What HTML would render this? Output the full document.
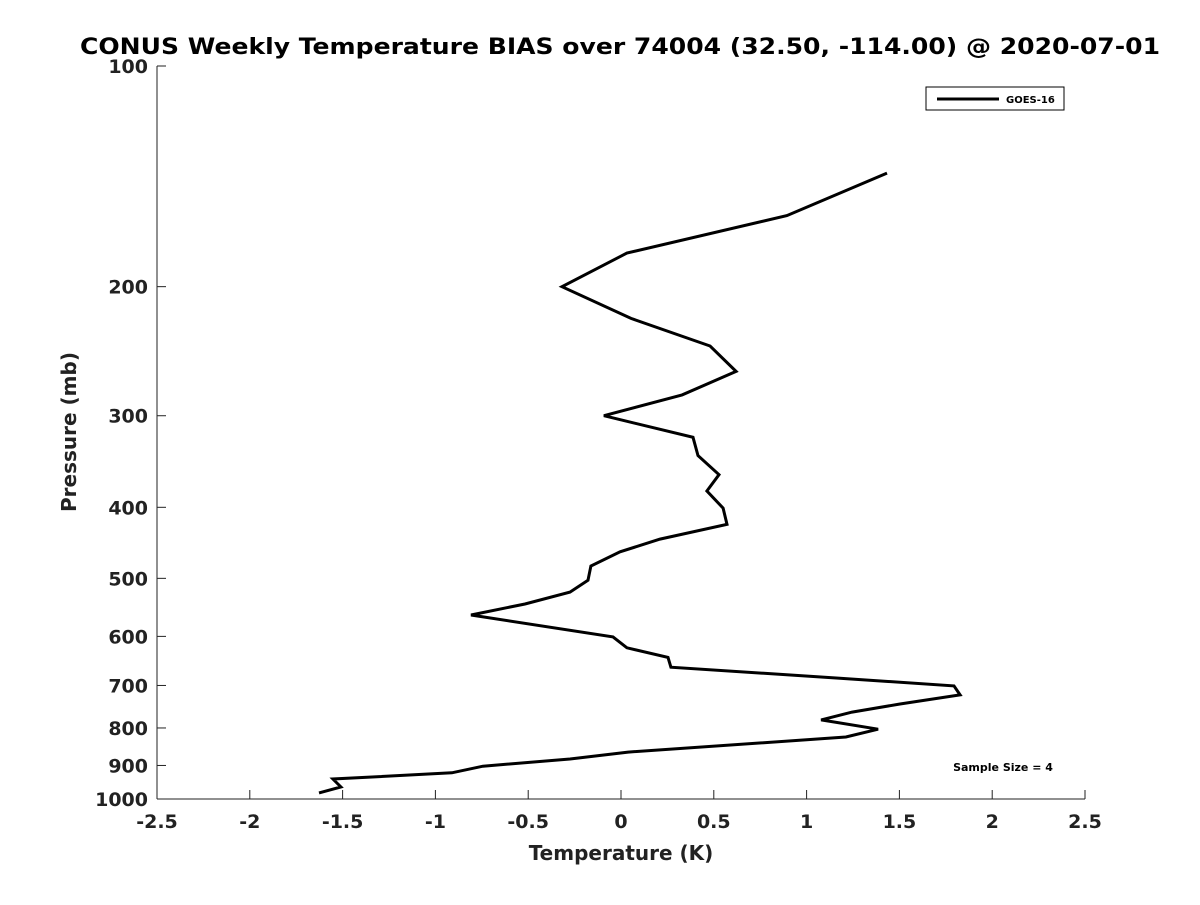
<!DOCTYPE html>
<html><head><meta charset="utf-8"><style>
body{margin:0;background:#fff;}
svg text{font-family:"DejaVu Sans","Liberation Sans",sans-serif;font-weight:bold;fill:#222;}
</style></head><body>
<svg id="chart" width="1200" height="900" xmlns="http://www.w3.org/2000/svg">
<rect x="0" y="0" width="1200" height="900" fill="#fff"/>
<text x="620" y="54" text-anchor="middle" font-size="22" textLength="1080" lengthAdjust="spacingAndGlyphs" style="fill:#000">CONUS Weekly Temperature BIAS over 74004 (32.50, -114.00) @ 2020-07-01</text>
<g id="axes"></g>
<path id="series" fill="none" stroke="#000" stroke-width="3" stroke-linejoin="miter"/>
<g>
<rect x="926" y="87" width="138" height="23" fill="#fff" stroke="#000" stroke-width="1"/>
<line x1="937" y1="99" x2="999" y2="99" stroke="#000" stroke-width="3"/>
<text x="1006" y="103" font-size="10" style="fill:#000">GOES-16</text>
</g>
<text x="1003" y="771" text-anchor="middle" font-size="11" style="fill:#000">Sample Size = 4</text>
<text x="621" y="860" text-anchor="middle" font-size="20">Temperature (K)</text>
<text transform="translate(76,432) rotate(-90)" text-anchor="middle" font-size="20">Pressure (mb)</text>
</svg>
<script>
const temps=[1.433,0.894,0.032,-0.318,0.054,0.480,0.620,0.329,-0.092,0.388,0.415,0.528,0.463,0.550,0.571,0.210,-0.005,-0.162,-0.178,-0.275,-0.517,-0.808,-0.043,0.032,0.253,0.269,1.169,1.794,1.827,1.503,1.245,1.078,1.385,1.212,0.038,-0.275,-0.744,-0.911,-1.552,-1.509,-1.627];
const pressures=[140,160,180,200,221,241,261,281,300,321,340,361,380,401,422,442,460,481,503,522,542,561,601,622,641,661,684,701,721,742,761,780,803,823,863,882,902,921,939,963,981];
const xTicks=[-2.5,-2,-1.5,-1,-0.5,0,0.5,1,1.5,2,2.5];
const xTickLabels=["-2.5","-2","-1.5","-1","-0.5","0","0.5","1","1.5","2","2.5"];
const yTicks=[100,200,300,400,500,600,700,800,900,1000];
const yTickLabels=["100","200","300","400","500","600","700","800","900","1000"];
const L=157,R=1085,T=66,B=799;
const xs=v=>L+(v+2.5)/5*(R-L);
const ys=p=>T+(Math.log10(p)-2)*(B-T);
const NS="http://www.w3.org/2000/svg";
const ax=document.getElementById('axes');
function mk(t,a){const e=document.createElementNS(NS,t);for(const k in a)e.setAttribute(k,a[k]);return e;}
const xl=mk('line',{x1:L,y1:B,x2:R,y2:B,stroke:'#222','stroke-width':1});


ax.appendChild(xl);
const yl=mk('line',{x1:L,y1:T,x2:L,y2:B,stroke:'#222','stroke-width':1});


ax.appendChild(yl);
xTicks.forEach((v,i)=>{const x=xs(v);
ax.appendChild(mk('line',{x1:x,y1:B,x2:x,y2:B-9,stroke:'#222','stroke-width':1}));
const t=mk('text',{x:x,y:B+29,'text-anchor':'middle','font-size':19});t.textContent=xTickLabels[i];


ax.appendChild(t);});
yTicks.forEach((v,i)=>{const y=ys(v);
ax.appendChild(mk('line',{x1:L,y1:y,x2:L+9,y2:y,stroke:'#222','stroke-width':1}));
const t=mk('text',{x:L-9,y:y+7,'text-anchor':'end','font-size':19});t.textContent=yTickLabels[i];


ax.appendChild(t);});
document.getElementById('series').setAttribute('d',temps.map((v,i)=>(i?'L':'M')+xs(v).toFixed(1)+','+ys(pressures[i]).toFixed(1)).join(''));
</script>
</body></html>
